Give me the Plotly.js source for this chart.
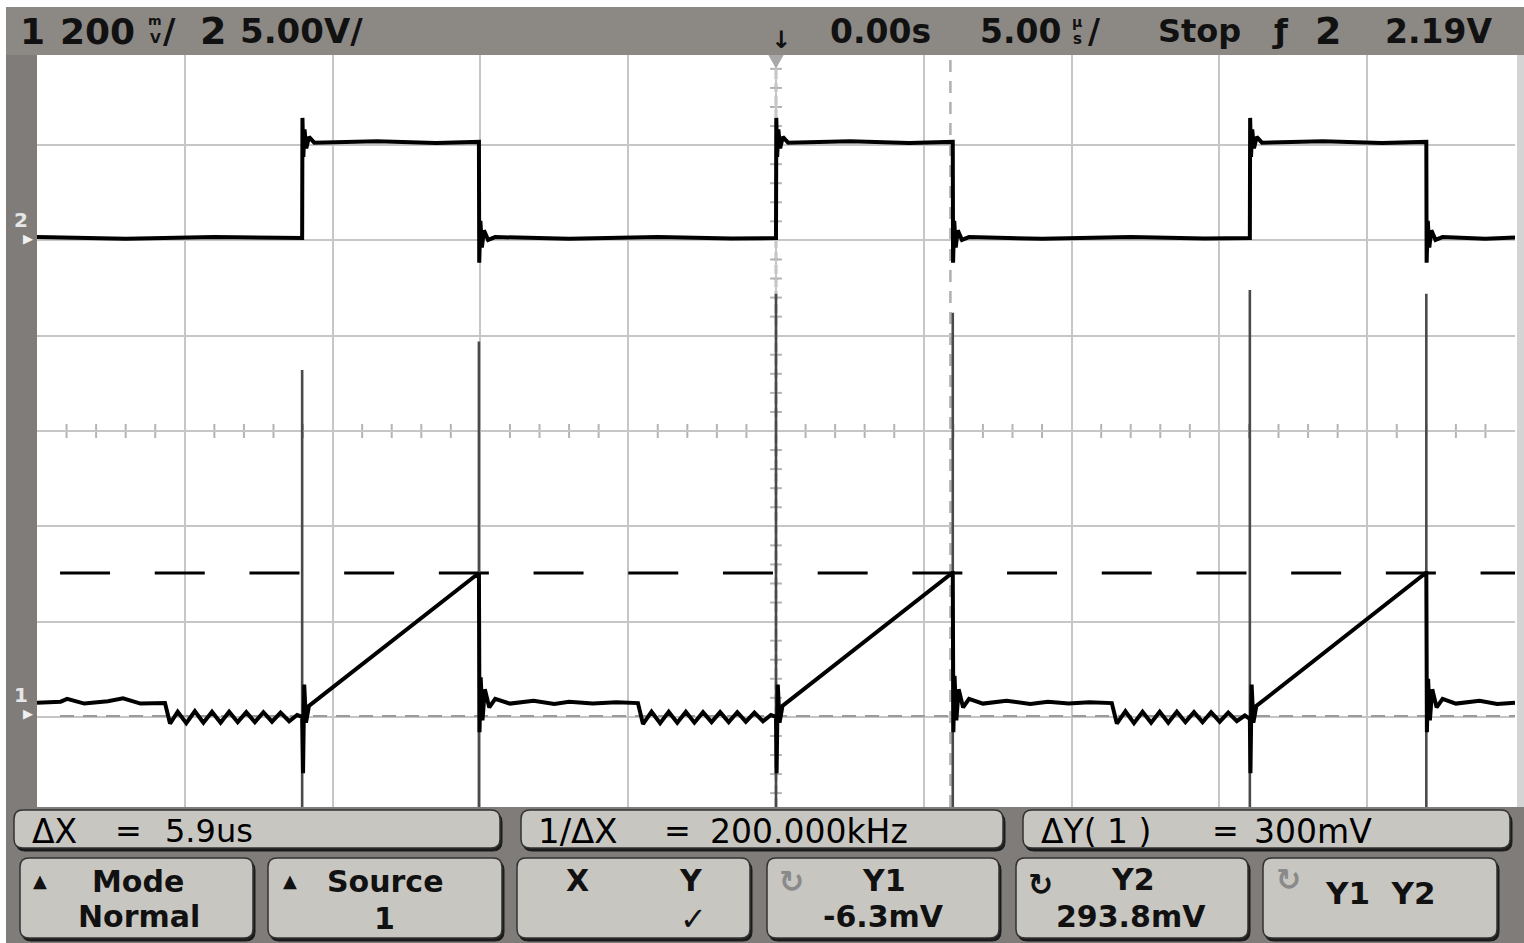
<!DOCTYPE html>
<html>
<head>
<meta charset="utf-8">
<script src="https://cdn.plot.ly/plotly-3.0.1.min.js"></script>
<style>
html,body{margin:0;padding:0;background:#fff;overflow:hidden}
#chart{width:1524px;height:943px}
</style>
</head>
<body>
<div id="chart"></div>
<script>
// ---------------- data (time in µs, voltages in V) ----------------
const timeRange = [-25, 25];          // 5 µs/div, 10 div, trigger at 0
const ch1Range = [-0.197, 1.381];     // 200 mV/div
const ch2Range = [-29.85, 9.60];      // 5 V/div

// Channel 1 (sense voltage: ramp while switch is on, ringing while off)
const ch1Time = [
 -25.00,-24.20,-23.98,-23.40,-22.60,-22.09,-21.50,-20.67,
 -20.50,-20.24,-19.95,-19.66,-19.37,-19.08,-18.79,-18.50,-18.21,-17.92,-17.63,-17.34,-17.05,-16.76,-16.47,-16.20,-16.03,
 -16.00,-15.96,-15.90,-15.80,-10.07,
 -10.05,-10.03,-9.99,-9.93,-9.85,-9.70,-9.50,-9.00,-8.20,-7.50,-7.00,-6.20,-5.40,-4.67,
 -4.50,-4.21,-3.92,-3.63,-3.34,-3.05,-2.76,-2.47,-2.18,-1.89,-1.60,-1.31,-1.02,-0.73,-0.44,-0.17,0.00,
 0.02,0.06,0.12,0.22,5.96,
 5.98,6.00,6.04,6.10,6.18,6.33,6.53,7.00,7.80,8.60,9.20,9.90,10.60,11.36,
 11.53,11.82,12.11,12.40,12.69,12.98,13.27,13.56,13.85,14.14,14.43,14.72,15.01,15.30,15.59,15.86,16.03,
 16.05,16.09,16.15,16.25,21.98,
 22.00,22.02,22.06,22.12,22.20,22.35,22.55,23.00,23.80,24.40,25.00
];
const ch1Volts = [
 0.022,0.024,0.030,0.020,0.025,0.031,0.020,0.021,
 -0.022,0.003,-0.021,0.004,-0.020,0.003,-0.020,0.003,-0.019,0.002,-0.019,0.002,-0.018,0.001,-0.017,-0.004,-0.008,
 -0.126,0.060,-0.020,0.015,0.294,
 0.294,-0.040,0.075,-0.015,0.050,0.012,0.030,0.020,0.026,0.019,0.024,0.020,0.023,0.021,
 -0.023,0.003,-0.021,0.003,-0.020,0.003,-0.020,0.002,-0.019,0.002,-0.019,0.002,-0.018,0.001,-0.017,-0.004,-0.008,
 -0.126,0.060,-0.020,0.015,0.294,
 0.294,-0.040,0.078,-0.015,0.050,0.012,0.030,0.020,0.026,0.019,0.024,0.020,0.023,0.021,
 -0.022,0.004,-0.021,0.003,-0.020,0.003,-0.020,0.003,-0.019,0.002,-0.019,0.002,-0.018,0.001,-0.017,-0.005,-0.012,
 -0.126,0.060,-0.020,0.015,0.294,
 0.294,-0.040,0.072,-0.015,0.050,0.012,0.030,0.020,0.026,0.019,0.022
];

// Channel 1 switching spikes (thin vertical traces)
const ch1SpikeTime  = [-16.03,-16.03,null,-10.05,-10.05,null,0.00,0.00,null,5.98,5.98,null,16.03,16.03,null,22.00,22.00];
const ch1SpikeVolts = [0.72,-0.25,null,0.78,-0.25,null,0.88,-0.25,null,0.84,-0.25,null,0.888,-0.25,null,0.88,-0.25];

// Channel 2 (gate drive square wave)
const ch2Time = [
 -25.00,-22.00,-19.00,-16.03,
 -16.02,-15.99,-15.95,-15.89,-15.80,-15.62,-13.50,-11.50,-10.05,
 -10.04,-10.00,-9.95,-9.88,-9.74,-9.50,-7.00,-4.00,-1.50,0.00,
 0.01,0.04,0.08,0.14,0.23,0.41,2.50,4.50,5.98,
 5.99,6.03,6.08,6.15,6.29,6.53,9.00,12.00,14.50,16.03,
 16.04,16.07,16.11,16.17,16.26,16.44,18.50,20.50,22.00,
 22.01,22.05,22.10,22.17,22.31,22.55,24.00,25.00
];
const ch2Volts = [
 0.05,-0.04,0.05,0.00,
 6.30,4.25,5.70,4.70,5.30,5.00,5.08,4.98,5.04,
 -1.30,0.90,-0.50,0.40,-0.10,0.05,-0.04,0.05,-0.03,0.00,
 6.30,4.25,5.70,4.70,5.30,5.00,5.08,4.98,5.04,
 -1.30,0.90,-0.50,0.40,-0.10,0.05,-0.04,0.05,-0.03,0.00,
 6.30,4.25,5.70,4.70,5.30,5.00,5.08,4.98,5.04,
 -1.30,0.90,-0.50,0.40,-0.10,0.05,-0.04,0.02
];

// Cursors
const cursorX = [0.0, 5.9];        // µs
const cursorY = [-0.0063, 0.2938]; // V (ch1)

// Readout texts
const headerLeft = ['1', '200', '2', '5.00V/'];
const headerRight = ['0.00s', '5.00', 'Stop', 'ƒ', '2', '2.19V'];
const readoutLabels = ['ΔX', '1/ΔX', 'ΔY(\u00a01\u00a0)'];
const readoutValues = ['5.9us', '200.000kHz', '300mV'];
const softkeyTop = ['Mode', 'Source', 'X', 'Y', 'Y1', 'Y2', 'Y1\u00a0\u00a0Y2'];
const softkeyBottom = ['Normal', '1', '✓', '-6.3mV', '293.8mV'];

// ---------------- layout helpers (pixel -> paper) ----------------
const W = 1524, H = 943, L = 37, R = 1515, T = 55, B = 807;
const X = px => (px - L) / (R - L);
const Y = py => (B - py) / (B - T);
const FONT = 'DejaVu Sans, Verdana, sans-serif';

function rectPx(x0, y0, x1, y1, fill, layer) {
  return {type:'rect', xref:'paper', yref:'paper', x0:X(x0), x1:X(x1), y0:Y(y1), y1:Y(y0),
          fillcolor:fill, line:{width:0}, layer:layer || 'above'};
}
function roundPx(x0, y0, x1, y1, r, fill, lineColor, lw) {
  const p = (a, b) => X(a).toFixed(5) + ',' + Y(b).toFixed(5);
  const d = 'M' + p(x0 + r, y0) + ' L' + p(x1 - r, y0) + ' Q' + p(x1, y0) + ' ' + p(x1, y0 + r) +
            ' L' + p(x1, y1 - r) + ' Q' + p(x1, y1) + ' ' + p(x1 - r, y1) +
            ' L' + p(x0 + r, y1) + ' Q' + p(x0, y1) + ' ' + p(x0, y1 - r) +
            ' L' + p(x0, y0 + r) + ' Q' + p(x0, y0) + ' ' + p(x0 + r, y0) + ' Z';
  return {type:'path', xref:'paper', yref:'paper', path:d, fillcolor:fill,
          line:{color:lineColor, width:lw}, layer:'above'};
}
function txt(text, px, py, size, opt) {
  opt = opt || {};
  return {text:text, x:X(px), y:Y(py), xref:'paper', yref:'paper', showarrow:false,
          xanchor:opt.anchor || 'left', yanchor:'middle',
          font:{family:FONT, size:size, color:opt.color || '#111', weight:opt.weight || 'normal'}};
}

// ---------------- traces ----------------
const traces = [
  {x:ch1SpikeTime, y:ch1SpikeVolts, xaxis:'x', yaxis:'y', mode:'lines',
   line:{color:'#4a4a4a', width:2.6}, hoverinfo:'skip', connectgaps:false},
  {x:ch2Time, y:ch2Volts, xaxis:'x', yaxis:'y2', mode:'lines',
   line:{color:'#000', width:4}, hoverinfo:'skip'},
  {x:ch1Time, y:ch1Volts, xaxis:'x', yaxis:'y', mode:'lines',
   line:{color:'#000', width:4}, hoverinfo:'skip'}
];

// ---------------- shapes ----------------
const shapes = [];
const pxPerDivY = 95.3 / (B - T);
for (let k = -24; k <= 24; k++) {
  if (k % 5 === 0) continue;
  shapes.push({type:'line', xref:'x', yref:'paper', x0:k, x1:k, y0:0.5 - 7/752, y1:0.5 + 7/752,
               line:{color:'#b4b4b4', width:2}, layer:'between'});
}
for (let j = -19; j <= 19; j++) {
  if (j % 5 === 0) continue;
  const yy = 0.5 + j * 0.2 * pxPerDivY;
  shapes.push({type:'line', xref:'x', yref:'paper', x0:-0.2, x1:0.2, y0:yy, y1:yy,
               line:{color:'#b4b4b4', width:2}, layer:'between'});
}
// cursors
shapes.push({type:'line', xref:'x', yref:'paper', x0:cursorX[0], x1:cursorX[0], y0:0, y1:1,
             line:{color:'#7a7a7a', width:2.5, dash:'9px,4px'}, layer:'between'});
shapes.push({type:'line', xref:'x', yref:'paper', x0:cursorX[1], x1:cursorX[1], y0:0, y1:1,
             line:{color:'#b0b0b0', width:2.5, dash:'12px,9px'}, layer:'between'});
shapes.push({type:'line', xref:'x', yref:'y', x0:-24.22, x1:25, y0:cursorY[0], y1:cursorY[0],
             line:{color:'#9a9a9a', width:2, dash:'14px,9px'}, layer:'between'});
shapes.push({type:'line', xref:'x', yref:'y', x0:-24.22, x1:25, y0:cursorY[1], y1:cursorY[1],
             line:{color:'#000', width:3, dash:'50px,44.7px'}, layer:'between'});
// trigger position marker
shapes.push({type:'path', xref:'x', yref:'paper', path:'M -0.26,1 L 0.26,1 L 0,0.982 Z',
             fillcolor:'#a8a8a8', line:{width:0}, layer:'above'});

// frame: top bar, side strips, bottom panel
const BAR = '#8c8985';
shapes.push(rectPx(6, 7, W, T, BAR));
shapes.push(rectPx(6, T, L, B, '#7f7c79'));
shapes.push(rectPx(R + 2, T, W, B, '#d4d4d4'));
shapes.push(rectPx(6, B, W, H, '#7f7c79'));

// readout boxes
const row1 = [[14, 810, 500, 848], [521, 810, 1003, 848], [1023, 810, 1510, 848]];
const row2 = [[20, 858, 253, 938], [268, 858, 502, 938], [517, 858, 750, 938],
              [767, 858, 999, 938], [1016, 858, 1248, 938], [1263, 858, 1497, 938]];
row1.concat(row2).forEach(b => {
  shapes.push(roundPx(b[0] + 2, b[1] + 3, b[2] + 2, b[3] + 3, 9, '#1c1c1c', '#1c1c1c', 1));
  shapes.push(roundPx(b[0], b[1], b[2], b[3], 9, '#c8c6c1', '#333', 1.5));
});

// ---------------- annotations ----------------
const ann = [];
// header left
ann.push(txt('<b>' + headerLeft[0] + '</b>', 18, 31, 36));
ann.push(txt('<b>' + headerLeft[1] + '</b>', 58, 31, 36));
ann.push(txt('<b>m</b>', 155, 21, 13, {anchor:'center'}));
ann.push(txt('<b>V</b>', 155, 38, 14, {anchor:'center'}));
ann.push(txt('<b>/</b>', 161, 31, 34));
ann.push(txt('<b>' + headerLeft[2] + '</b>', 198, 31, 38));
ann.push(txt('<b>' + headerLeft[3] + '</b>', 238, 31, 34));
// header right
ann.push(txt('<b>↓</b>', 781, 40, 24, {anchor:'center'}));
ann.push(txt('<b>' + headerRight[0] + '</b>', 828, 31, 33));
ann.push(txt('<b>' + headerRight[1] + '</b>', 978, 31, 33));
ann.push(txt('<b>µ</b>', 1077, 22, 14, {anchor:'center'}));
ann.push(txt('<b>s</b>', 1077, 39, 15, {anchor:'center'}));
ann.push(txt('<b>/</b>', 1086, 31, 33));
ann.push(txt('<b>' + headerRight[2] + '</b>', 1156, 31, 32));
ann.push(txt('<b>' + headerRight[3] + '</b>', 1280, 31, 32, {anchor:'center'}));
ann.push(txt('<b>' + headerRight[4] + '</b>', 1313, 31, 38));
ann.push(txt('<b>' + headerRight[5] + '</b>', 1383, 31, 33));
// channel ground markers
ann.push(txt('<b>2</b>', 21, 220, 20, {anchor:'center', color:'#e6e6e6'}));
ann.push(txt('▶', 28, 238, 13, {anchor:'center', color:'#f0f0f0'}));
ann.push(txt('<b>1</b>', 21, 695, 20, {anchor:'center', color:'#e6e6e6'}));
ann.push(txt('▶', 28, 713, 13, {anchor:'center', color:'#f0f0f0'}));
// readout row
ann.push(txt(readoutLabels[0], 30, 831, 33, {color:'#000'}));
ann.push(txt('=', 113, 831, 32, {color:'#000'}));
ann.push(txt(readoutValues[0], 163, 831, 32, {color:'#000'}));
ann.push(txt(readoutLabels[1], 536, 831, 34, {color:'#000'}));
ann.push(txt('=', 662, 831, 32, {color:'#000'}));
ann.push(txt(readoutValues[1], 708, 831, 33, {color:'#000'}));
ann.push(txt(readoutLabels[2], 1039, 831, 33, {color:'#000'}));
ann.push(txt('=', 1210, 831, 32, {color:'#000'}));
ann.push(txt(readoutValues[2], 1252, 831, 33, {color:'#000'}));
// softkeys
ann.push(txt('▲', 40, 880, 18, {anchor:'center'}));
ann.push(txt('<b>' + softkeyTop[0] + '</b>', 138, 882, 30, {anchor:'center'}));
ann.push(txt('<b>' + softkeyBottom[0] + '</b>', 139, 917, 30, {anchor:'center'}));
ann.push(txt('▲', 290, 880, 18, {anchor:'center'}));
ann.push(txt('<b>' + softkeyTop[1] + '</b>', 385, 882, 30, {anchor:'center'}));
ann.push(txt('<b>' + softkeyBottom[1] + '</b>', 384, 918, 30, {anchor:'center'}));
ann.push(txt('<b>' + softkeyTop[2] + '</b>', 577, 880, 30, {anchor:'center'}));
ann.push(txt('<b>' + softkeyTop[3] + '</b>', 691, 880, 30, {anchor:'center'}));
ann.push(txt('<b>' + softkeyBottom[2] + '</b>', 693, 919, 32, {anchor:'center'}));
ann.push(txt('<b>↻</b>', 792, 882, 30, {anchor:'center', color:'#8a8a8a'}));
ann.push(txt('<b>' + softkeyTop[4] + '</b>', 884, 880, 30, {anchor:'center'}));
ann.push(txt('<b>' + softkeyBottom[3] + '</b>', 883, 916, 30, {anchor:'center'}));
ann.push(txt('<b>↻</b>', 1040, 884, 30, {anchor:'center', color:'#111'}));
ann.push(txt('<b>' + softkeyTop[5] + '</b>', 1133, 879, 30, {anchor:'center'}));
ann.push(txt('<b>' + softkeyBottom[4] + '</b>', 1131, 916, 30, {anchor:'center'}));
ann.push(txt('<b>↻</b>', 1288, 879, 30, {anchor:'center', color:'#8a8a8a'}));
ann.push(txt('<b>' + softkeyTop[6] + '</b>', 1380, 893, 31, {anchor:'center'}));

// ---------------- layout ----------------
const layout = {
  width: W, height: H,
  margin: {l: L, r: W - R, t: T, b: H - B, pad: 0},
  paper_bgcolor: '#ffffff',
  plot_bgcolor: '#ffffff',
  showlegend: false,
  xaxis: {range: timeRange, dtick: 5, tick0: 0, showgrid: true, gridcolor: '#c6c6c6', gridwidth: 2,
          zeroline: false, showticklabels: false, ticks: '', showline: false, fixedrange: true},
  yaxis: {range: ch1Range, dtick: 0.2, tick0: 0.5918, showgrid: true, gridcolor: '#c6c6c6', gridwidth: 2,
          zeroline: false, showticklabels: false, ticks: '', showline: false, fixedrange: true},
  yaxis2: {range: ch2Range, overlaying: 'y', showgrid: false, zeroline: false, showticklabels: false,
           ticks: '', showline: false, fixedrange: true},
  shapes: shapes,
  annotations: ann
};

Plotly.newPlot('chart', traces, layout, {displayModeBar: false, staticPlot: true});
</script>
</body>
</html>
